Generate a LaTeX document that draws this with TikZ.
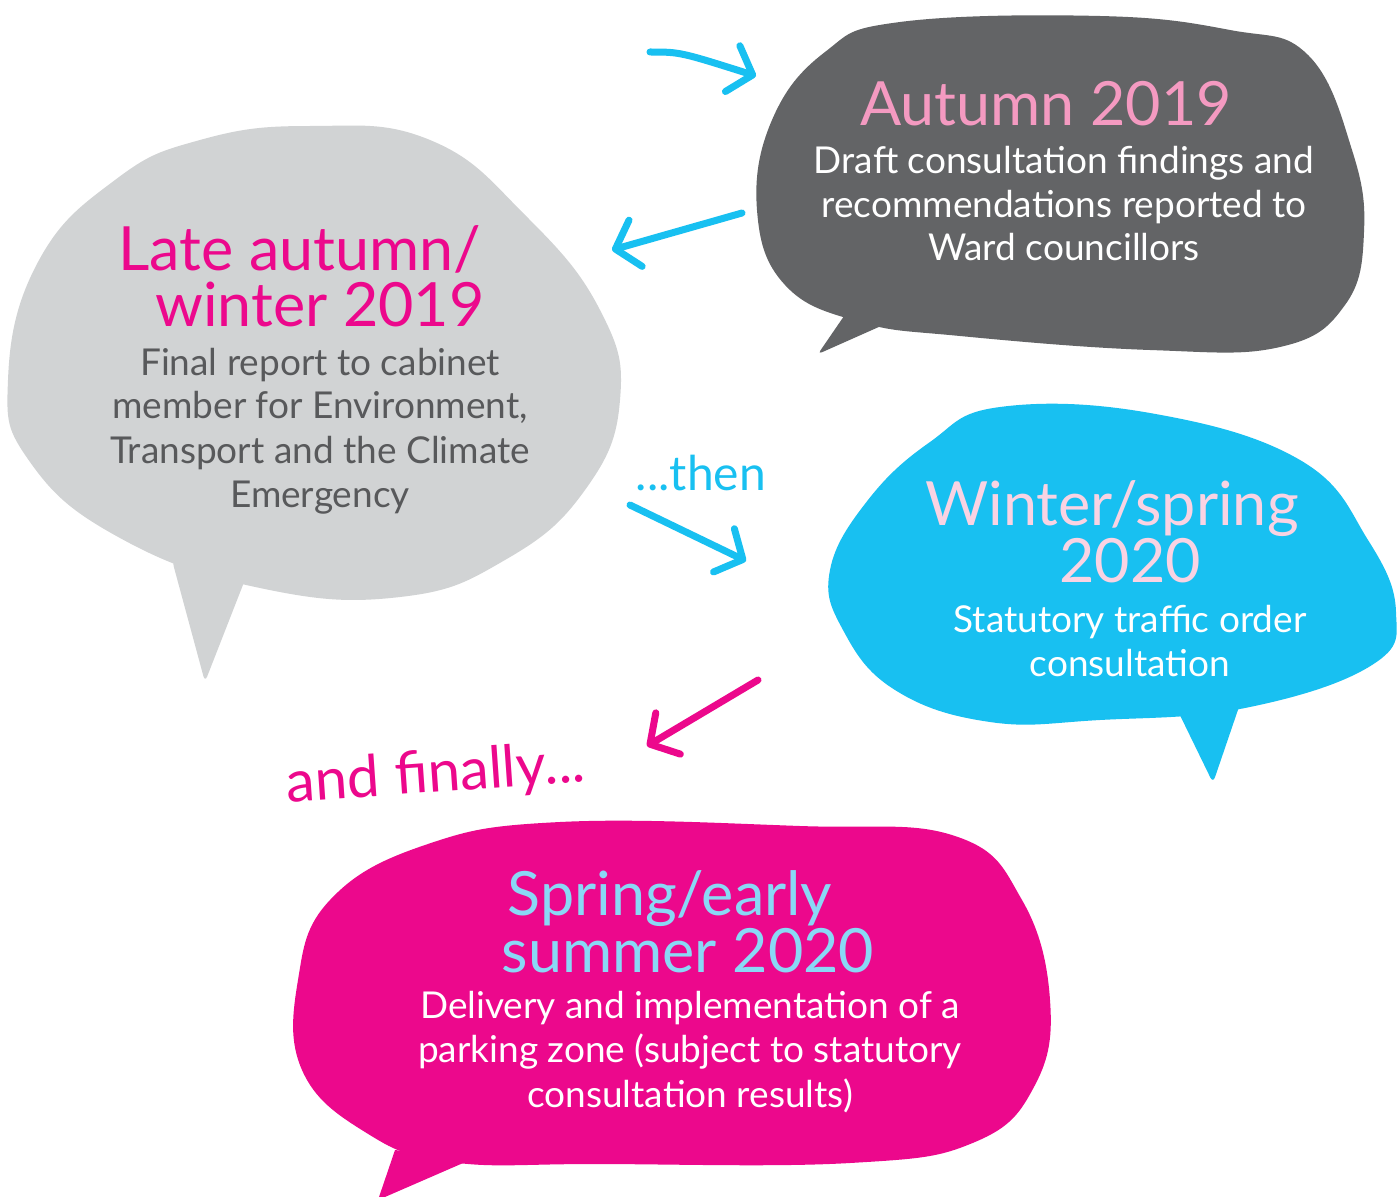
\documentclass[tikz,border=0pt]{standalone}
\usepackage{fontspec}
\setmainfont{Lato}
\usetikzlibrary{arrows.meta}
\definecolor{bgrey}{HTML}{D1D3D4}
\definecolor{bdark}{HTML}{636466}
\definecolor{bblue}{HTML}{18C0F1}
\definecolor{bpink}{HTML}{EC088C}
\definecolor{tgrey}{HTML}{58595B}
\definecolor{tpink}{HTML}{F49AC1}
\definecolor{tlpink}{HTML}{F9D3E3}
\definecolor{tlblue}{HTML}{8AD8F5}
\begin{document}
\begin{tikzpicture}[x=1pt,y=-1pt,
  title/.style={anchor=base,inner sep=0pt,font=\fontsize{61}{61}\selectfont},
  body/.style={anchor=base,inner sep=0pt,font=\fontsize{37}{37}\selectfont},
  link/.style={line width=7pt,line cap=round,line join=round,
    -{Straight Barb[length=21pt,width=48pt,round]}},
  bubble/.style={line join=round}]
\useasboundingbox (0,0) rectangle (1399,1196);
\fill[white] (0,0) rectangle (1399,1196);
% grey bubble
\fill[bgrey,rounded corners=6pt] (172,560) -- (205,682) -- (248,572) -- cycle;
\fill[bgrey] plot[smooth cycle,tension=0.75] coordinates {(310,126) (430,140) (525,215) (600,310) (620,400) (585,490) (505,560) (400,597) (260,588) (120,538) (30,462) (8,380) (38,262) (115,180) (200,140)};
% dark bubble
\fill[bdark,rounded corners=4pt] (855,300) -- (818,354) -- (890,322) -- cycle;
\fill[bdark] plot[smooth cycle,tension=0.7] coordinates {(900,22) (1100,16) (1230,30) (1308,55) (1352,150) (1364,232) (1345,305) (1280,347) (1150,350) (960,336) (860,322) (785,285) (757,210) (772,120) (825,52)};
% blue bubble
\fill[bblue,rounded corners=6pt] (1175,705) -- (1213,783) -- (1242,698) -- cycle;
\fill[bblue] plot[smooth cycle,tension=0.7] coordinates {(1000,407) (1150,413) (1300,460) (1368,540) (1396,612) (1372,665) (1245,708) (1100,720) (990,722) (895,690) (843,630) (830,570) (868,500) (930,442)};
% pink bubble
\fill[bpink] (395,1150) -- (378,1200) -- (470,1160) -- cycle;
\fill[bpink] plot[smooth cycle,tension=0.7] coordinates {(560,822) (800,826) (955,836) (1022,900) (1050,1000) (1035,1085) (975,1142) (850,1163) (600,1164) (450,1162) (365,1132) (302,1070) (298,980) (330,900) (425,845)};
% texts: grey
\node[title,text=bpink] (g1) at (300,270) {Late autumn/};
\node[title,text=bpink] (g2) at (320,326) {winter 2019};
\node[body,text=tgrey] (g3) at (320,375) {Final report to cabinet};
\node[body,text=tgrey] (g4) at (320,418) {member for Environment,};
\node[body,text=tgrey] (g5) at (320,463) {Transport and the Climate};
\node[body,text=tgrey] (g6) at (320,507) {Emergency};
% texts: dark
\node[title,text=tpink] (d1) at (1046,125) {Autumn 2019};
\node[body,text=white] (d2) at (1064,173) {Draft consultation findings and};
\node[body,text=white] (d3) at (1064,217) {recommendations reported to};
\node[body,text=white] (d4) at (1064,260) {Ward councillors};
% texts: blue
\node[title,text=tlpink] (b1) at (1112,525) {Winter/spring};
\node[title,text=tlpink] (b2) at (1130,582) {2020};
\node[body,text=white] (b3) at (1130,632) {Statutory traffic order};
\node[body,text=white] (b4) at (1130,676) {consultation};
% texts: pink
\node[title,text=tlblue] (p1) at (670,915) {Spring/early};
\node[title,text=tlblue] (p2) at (688,972) {summer 2020};
\node[body,text=white] (p3) at (690,1018) {Delivery and implementation of a};
\node[body,text=white] (p4) at (690,1062) {parking zone (subject to statutory};
\node[body,text=white] (p5) at (690,1107) {consultation results)};
% connector labels
\node[anchor=base,inner sep=0pt,text=bblue,font=\fontsize{48}{48}\selectfont] (then) at (701,490) {...then};
\node[anchor=base,inner sep=0pt,text=bpink,rotate=4,font=\fontsize{58}{58}\selectfont] (fin) at (437,792) {and finally...};
% arrows
\coordinate (a1s) at (650,52); \coordinate (a1e) at (756,76);
\coordinate (a2s) at (742,213); \coordinate (a2e) at (612,250);
\coordinate (a3s) at (630,505); \coordinate (a3e) at (746,561);
\coordinate (a4s) at (758,680); \coordinate (a4e) at (647,746);
\draw[link,bblue] (a1s) .. controls (680,52) .. (a1e);
\draw[link,bblue] (a2s) -- (a2e);
\draw[link,bblue] (a3s) -- (a3e);
\draw[link,bpink] (a4s) -- (a4e);
\end{tikzpicture}
\end{document}
